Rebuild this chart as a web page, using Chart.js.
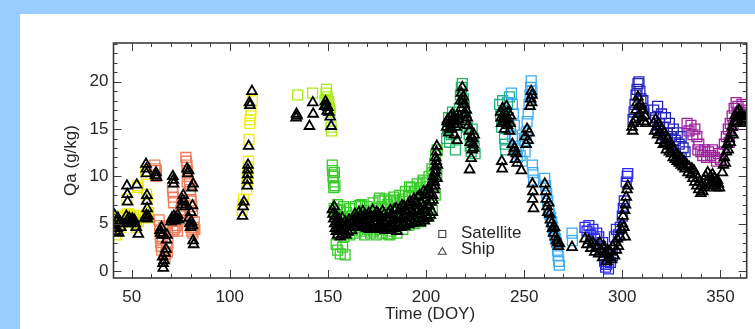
<!DOCTYPE html>
<html lang="en">
<head>
<meta charset="UTF-8">
<title>Qa time series</title>
<script src="https://cdn.jsdelivr.net/npm/chart.js@4.4.0/dist/chart.umd.min.js"></script>
<style>
    * {
        margin: 0;
        padding: 0;
        box-sizing: border-box;
    }

    body {
        background: #99ccff;
        width: 755px;
        height: 329px;
        overflow: hidden;
    }

    .panel {
        position: absolute;
        left: 20px;
        top: 14px;
        width: 735px;
        height: 315px;
        background: #fff;
    }

    canvas {
        display: block;
    }
</style>
</head>
<body>
<div class="panel">
    <canvas id="qaChart" width="735" height="315"></canvas>
</div>

<script>
// tick labels
const xTickValues = [50, 100, 150, 200, 250, 300, 350];
const yTickValues = [0, 5, 10, 15, 20];

// satellite Qa (g/kg) vs day of year
const satellitePoints = [
    [41.3,4.4],[41.6,5.2],[42,3.8],[42.4,4.8],[42.8,5.6],[43.2,4.2],[43.6,5.0],[44,5.8],[44.4,4.6],[45,5.3],
    [47.5,7.6],[47.8,6.0],[48.2,5.6],[48.6,6.0],[49,5.4],[49.5,5.8],[50,5.2],[50.5,5.6],[51,5.9],[51.5,5.4],[52,5.0],[52.5,4.6],[53,8.8],[53.3,9.0],[53.5,5.2],
    [57.2,10.6],[57.5,10.2],[57.6,8.1],[57.8,7.6],[58,6.0],[58.3,5.6],[57,5.8],[58.6,6.2],
    [61.8,11.2],[62.2,10.8],[62.6,10.6],[62.4,10.0],
    [64,5.4],[64.2,4.8],[64.4,4.2],[64.6,3.6],[64.8,3.0],[65,2.6],[65.3,2.2],[65.6,3.4],[66,4.0],[66.4,4.6],
    [67,1.4],[67.4,1.8],[67.8,2.4],[68.2,2.0],[68.5,3.0],
    [70.8,8.8],[71,8.4],[71.2,7.8],[71.4,7.2],[71,4.4],[71.6,4.2],[72.2,4.6],[72.8,4.8],[73.3,4.2],
    [74.6,5.8],[75,6.4],[75.5,7.0],[76,6.2],[75.8,5.4],
    [77.6,12.0],[77.9,11.6],[78.2,11.2],[78.4,10.6],[78.6,10.0],[78.3,9.4],
    [79.5,9.2],[79.8,8.6],[80,8.0],[80.3,7.4],[80.6,6.8],[81,6.2],[80.2,4.6],[80.6,4.2],[81.2,4.0],[81.6,4.6],[81.9,5.2],[82.2,4.4],
    [106.3,6.4],[106.6,7.0],[106.9,7.6],[108.6,8.6],[108.8,9.2],[109,9.8],[109.2,10.4],[109.4,11.0],[109.6,11.6],[109.8,13.9],[110.2,15.6],[110.4,16.0],[110.6,16.4],[110.8,17.0],[111.5,18.0],
    [134.6,18.6],[142.2,18.8],[148.5,18.0],[149,18.8],[149.3,19.2],[149.6,18.4],[150,17.6],[150.4,17.9],[150.8,17.2],[151.2,16.8],[151.6,15.2],[151.8,14.8],
    [152.2,11.2],[152.4,10.6],[152.6,10.0],[152.8,9.4],[153,8.8],[153.3,10.4],[153.6,9.0],[153.2,6.6],[153.5,6.0],
    [154.2,2.8],[155,2.2],[156.3,1.8],[157.5,2.5],[158.8,1.7],
    [154,5.8],[154.4,6.5],[155,7.0],[155.2,3.9],[156.5,6.4],[156.7,4.5],[156.9,5.6],[158,6.8],[158.2,3.6],[158.4,5.0],
    [159.5,6.2],[159.7,4.2],[161,6.6],[161.2,3.8],[161.4,5.4],[162.5,5.8],[162.7,4.4],[164,6.8],[164.2,4.0],[164.4,5.2],
    [165.5,6.0],[165.7,4.6],[166.2,6.9],[167,7.0],[167.2,4.2],[167.4,5.6],[168.5,6.4],[168.7,3.8],[170,6.8],[170.2,4.4],[170.4,5.8],
    [171.5,6.2],[171.7,4.0],[173,7.2],[173.2,4.2],[173.4,5.4],[174.5,6.6],[174.7,3.8],[176,7.4],[176.3,7.7],[176.2,4.4],[176.4,5.9],
    [177.5,6.8],[177.7,4.0],[179,7.6],[179.2,4.6],[179.4,6.2],[180.5,7.0],[180.7,3.9],[181.6,3.8],[182,7.4],[182.2,4.2],[182.4,5.8],
    [183.5,7.8],[183.7,4.6],[184,7.5],[185,7.2],[185.2,4.0],[185.4,6.4],[186.5,8.0],[186.7,4.8],[188,7.6],[188.2,4.4],[188.4,6.6],
    [189.5,8.4],[189.7,5.0],[191,8.0],[191.2,4.8],[191.4,6.8],[191.6,8.9],[192.5,8.8],[192.7,5.2],[194,8.4],[194.2,5.0],[194.4,7.2],
    [195.5,9.2],[195.7,5.4],[197,8.8],[197.2,5.2],[197.4,7.6],[198.4,9.4],[198.5,9.6],[198.7,5.6],[200,9.2],[200.2,5.8],[200.4,8.0],
    [201.5,10.0],[201.7,6.0],[203,10.8],[203.2,6.4],[203.4,9.0],[203.5,10.4],[204.5,11.4],[204.7,8.0],[204.9,12.2],[205.5,10.2],[205.7,12.8],
    [210.5,14.0],[211,15.0],[211.5,16.2],[212,13.6],[212.5,15.4],[213,14.4],[213.5,16.8],[214,15.8],[215,12.8],[215.5,14.6],[216,16.4],
    [217,17.2],[217.5,18.6],[218,19.4],[218.5,19.8],[219,18.2],[219.5,17.4],[220,16.0],[221,15.2],[222,14.4],[222.5,13.2],[223,12.6],
    [223.5,15.0],[224,14.0],[224.5,13.2],[225,12.4],
    [237.5,17.6],[238,16.4],[238.5,15.2],[239,18.0],[239.5,16.8],[240,14.0],[240.3,13.4],[240.6,12.8],[241,15.6],[241.5,17.8],[242,16.2],[242.5,18.4],[243,15.0],[244,14.2],
    [243.5,18.8],[244,17.6],[244.5,16.6],[245,15.4],[245.5,14.0],[246,12.8],[246.5,12.0],[247,13.2],[248,12.2],[249,11.6],[250,13.8],[250.5,12.6],
    [251,14.6],[251.5,15.8],[252,16.6],[252.5,17.6],[253,18.6],[253.3,19.4],[253.6,20.1],[254,19.0],[254.2,11.2],[254.5,10.4],[254.8,9.6],
    [260.5,9.8],[261,9.0],[261.5,8.2],[262,7.4],[262.5,6.6],[263,6.0],[263.5,5.6],[264,5.2],[264.5,4.6],[265,4.2],[265.5,3.8],[266,3.4],
    [266.5,3.0],[267,2.2],[267.3,1.6],[267.6,1.0],[267.9,0.6],
    [274.4,4.0],[274.6,3.2],[281,4.6],[282,4.2],[283,4.8],[284,3.8],[285,4.4],[286,3.4],[287,4.0],[288,3.6],[289,2.6],[290,3.0],
    [291,1.0],[291.5,0.4],[292,0.7],[293,0.2],[294,0.9],[295,1.6],[296,3.6],[297,4.4],[298,3.8],[299,4.6],[300,5.8],[300.5,6.6],
    [301,7.4],[302,9.4],[302.5,10.0],[302.8,10.3],
    [305.5,16.0],[306,16.8],[306.5,17.6],[307,18.6],[307.5,19.2],[308,19.8],[308.5,20.0],[309,19.0],[309.5,18.2],[310,17.2],[310.5,18.0],[311,16.6],
    [316,17.0],[317,16.2],[318,17.4],[319,15.6],[320,16.6],[321,15.2],[322,16.2],[323,14.6],[324,15.6],[325,14.2],[326,15.0],[327,13.8],
    [328,14.6],[329,13.4],[330,14.2],[331,13.0],[332,12.6],[318,15.0],[322,14.0],[326,12.8],[330,12.0],
    [333,15.6],[334,14.8],[335,15.4],[336,14.4],[337,15.0],[338,14.2],[339,13.4],[340,12.6],[338.5,12.8],[341,12.2],[342,12.8],[343,12.0],
    [344,12.6],[345,12.2],[346,12.8],[347,12.0],[348,11.6],[349,12.4],[350,11.8],[351,12.6],[352,13.4],[353,14.2],[354,15.0],[355,15.6],
    [356,16.4],[357,17.2],[358,17.8],[358.5,16.6],[359,17.4],[360,16.8],[361,17.6],[362,16.4],[363,17.0],[356.5,15.4],[354.5,13.6]
];

// ship Qa (g/kg) vs day of year
const shipPoints = [
    [41.3,5.9],[41.5,4.8],[41.8,4.2],[42.2,5.3],[42.5,4.5],[43,5.6],[43.4,4.0],[44,5.2],[44.5,4.6],[45.2,5.0],
    [47.6,9.0],[47.8,8.1],[47.9,7.3],[47.3,5.8],[47.8,5.4],[48.3,5.1],[48.8,5.6],[49.3,5.3],[49.8,5.0],[50.3,5.5],[50.8,5.2],[51.3,5.4],
    [51.8,5.0],[52.3,4.6],[52.6,9.1],[53.4,3.9],
    [57.3,11.3],[57.5,10.8],[57.6,10.3],[57.8,8.0],[57.7,7.4],[57.9,6.6],[57.5,5.9],[58.0,5.5],[58.4,5.8],[56.8,5.6],
    [62.2,10.1],[62.7,9.9],[62.4,10.4],
    [64.5,4.3],[64.8,4.0],[65.2,4.6],[65.5,3.8],[65.8,1.5],[66.0,0.8],[66.1,0.3],[66.5,1.1],[67,1.9],[67.5,2.3],[67.8,3.3],[68,3.8],
    [71.0,10.0],[71.2,9.6],[71.4,9.2],[70,5.2],[70.5,5.6],[71,5.4],[71.5,5.8],[72,5.3],[72.5,5.6],[73,5.5],[73.5,5.9],[74,5.4],
    [75.5,7.0],[76,7.5],[76.3,8.0],[76.8,7.3],[77.2,6.8],[78.2,10.8],[78.6,10.3],[79,10.6],[79.2,5.6],[79.6,5.0],[80,4.6],[80.5,5.2],
    [81,4.8],[80.8,8.8],[81.3,9.2],[80.2,6.2],[81,6.9],[81.3,3.2],[81.6,2.8],
    [106.5,5.8],[106.8,6.8],[107.2,7.3],[108.9,9.0],[109,9.6],[109.1,10.2],[109.2,10.7],[109.3,11.2],[109.6,13.2],[110,17.8],[110.3,17.5],[111.3,19.0],
    [133.8,16.2],[134,16.6],[134.3,16.4],[140.6,15.3],[142.3,17.8],[142.5,16.6],[148.3,17.4],[148.8,17.9],[149.2,17.5],[149.6,16.9],
    [150,17.3],[150.5,16.8],[151.2,16.3],[151.7,15.3],
    [152.3,6.5],[152.6,6.0],[153,5.5],[153.2,6.8],[153.5,5.0],[153.8,4.5],[154,5.8],[154.3,4.2],[154.6,5.2],[155,3.8],[155.3,4.8],
    [155.6,5.5],[156,4.4],[156.3,3.6],[156.6,5.0],[157,4.2],[157.3,5.6],[157.6,3.9],[158,4.8],[158.4,4.3],[158.8,5.2],[159.2,3.8],
    [159.5,4.6],[160,5.0],[160.4,4.1],[160.8,5.4],[161.2,4.6],[161.6,5.0],[162,4.3],[162.5,5.2],
    [163.2,4.6],[163.5,5.4],[163.8,6.0],[164.2,5.0],[164.5,5.7],[164.8,4.7],[165.2,4.8],[165.5,5.5],[165.8,6.2],[166.2,5.1],[166.5,4.6],[166.8,5.8],
    [167.2,4.9],[167.5,5.6],[167.8,6.3],[168.2,4.7],[168.5,5.3],[168.8,5.9],[169.2,5.0],[169.5,5.8],[169.8,4.5],[170.2,4.6],[170.5,5.4],[170.8,6.1],
    [171.2,4.4],[171.5,5.2],[171.8,5.8],[172.2,4.8],[172.5,5.6],[172.8,6.4],[173.2,4.5],[173.5,5.1],[173.8,5.9],[174.2,4.9],[174.5,5.7],[174.8,6.2],
    [175.2,4.6],[175.5,5.3],[175.8,6.0],[176.2,4.4],[176.5,5.0],[176.8,5.7],[177.2,4.8],[177.5,5.6],[177.8,6.3],[178.2,4.5],[178.5,5.2],[178.8,6.0],
    [179.2,4.3],[179.5,5.0],[179.8,5.6],[180.2,4.4],[180.5,5.3],[180.8,6.1],[181.2,4.6],[181.5,5.5],[181.8,6.4],[182.2,4.3],[182.5,5.1],[182.8,5.9],
    [183.2,4.7],[183.5,5.6],[183.8,6.5],[184.2,4.5],[184.5,5.4],[184.8,6.6],[185.2,4.2],[185.5,5.0],[185.8,5.8],[186.2,4.8],[186.5,5.7],[186.8,6.6],
    [187.2,4.6],[187.5,5.5],[187.8,6.9],[188.2,5.0],[188.5,5.9],[188.8,6.8],[189.2,4.7],[189.5,5.6],[189.8,6.4],[190.2,5.1],[190.5,6.0],[190.8,7.0],
    [191.2,4.9],[191.5,5.8],[191.8,7.3],[192.2,5.3],[192.5,6.2],[192.8,7.2],[193.2,5.0],[193.5,6.1],[193.8,7.6],[194.2,5.4],[194.5,6.4],[194.8,7.4],
    [195.2,5.2],[195.5,6.3],[195.8,7.8],[196.2,5.6],[196.5,6.6],[196.8,8.0],[197.2,5.1],[197.5,6.0],[197.8,7.2],[198.2,5.5],[198.5,6.8],[198.8,8.4],
    [199.2,5.3],[199.5,6.4],[199.8,8.1],[200.2,5.8],[200.5,7.0],[200.8,8.6],[201.2,5.6],[201.5,6.9],[201.8,8.2],[202.2,5.9],[202.5,7.3],[202.8,9.0],
    [203.2,6.2],[203.4,8.0],[203.6,9.6],[203.5,7.5],[203.8,10.0],[204,8.6],[204.2,9.4],[204.4,10.4],[204.5,9.0],[204.7,11.0],[204.9,12.0],
    [205,10.6],[205.2,11.6],[205.3,12.6],[205.5,13.2],[205.6,9.8],[205.8,11.2],
    [210.5,15.2],[211,16.0],[211.5,14.6],[212,15.6],[212.5,16.3],[213,15.0],[213.5,16.6],[214,15.8],[214.5,14.4],[215,16.0],[215.8,13.8],[216,15.5],
    [217,16.4],[217.5,18.0],[218,18.8],[218.5,19.4],[219,18.4],[219.5,17.6],[219,16.5],[220,15.8],[220.5,17.0],[221,16.2],[222,14.8],[222.5,13.6],
    [223,14.2],[223.5,12.8],[224,13.4],[224.5,14.4],[223,11.9],[222.2,10.7],
    [210.8,15.8],[211.8,15.0],[212.8,15.8],[213.8,16.2],[215.3,15.2],[216.5,16.0],[217.8,17.2],[218.8,18.0],[220.2,16.6],[221.5,15.4],[223.8,14.0],[224.2,13.0],
    [238,16.8],[238.5,15.6],[239,17.2],[239.5,16.2],[240,15.0],[240.5,16.6],[241,17.4],[241.5,15.4],[242,16.0],[242.5,14.8],[243,16.4],
    [238.3,16.2],[239.8,15.8],[240.8,16.0],[241.8,16.8],[242.8,15.6],
    [238.6,11.6],[238.8,10.8],[244,13.4],[244.5,12.6],[245,13.0],[245.5,11.8],[246,12.4],[246.5,11.4],[248.6,10.6],
    [250.5,14.2],[251,13.4],[251.5,15.0],[252,13.8],[252.5,14.6],[253,17.4],[253.3,18.2],[253.6,19.0],[254,18.6],[253.8,17.8],
    [254.2,9.2],[254.5,8.4],[254.3,7.6],[254.8,6.6],
    [260.5,9.2],[261,8.4],[261.3,7.6],[261.7,6.8],[262,6.2],[262.5,7.2],[263,6.0],[263.4,5.4],[264,5.0],[264.5,4.5],[265,4.0],[265.5,4.6],
    [266,3.6],[266.5,3.2],[267,3.0],[267.5,2.6],[268,2.9],[274.4,2.5],
    [281,3.4],[282,2.8],[283,3.2],[284,2.4],[285,3.0],[286,2.0],[287,2.6],[288,1.8],[288.5,3.0],[289,2.2],[290,1.4],[290.5,2.6],
    [291,1.8],[292,1.0],[292.5,2.2],[293,1.4],[294,2.0],[294.5,1.2],[295,2.6],[296,1.6],[296.5,3.0],[297,2.2],[297.5,3.4],[298,2.6],
    [299,3.6],[299.5,4.4],[300,5.0],[300.4,5.8],[300.8,4.6],[301.2,6.4],[301.6,7.0],[302,7.8],[302.4,8.6],[302.8,9.0],[301.5,3.6],
    [305,15.2],[305.3,14.8],[305.6,15.6],
    [306.5,16.0],[307,17.0],[307.5,17.8],[308,18.4],[308.5,17.4],[309,16.6],[309.5,17.6],[310,16.2],[310.5,17.0],[311,15.8],[311.5,16.4],[312,15.6],
    [316,15.6],[316.5,14.8],[317,16.0],[317.5,15.2],[318,14.4],[318.5,15.6],[319,14.6],[319.5,13.8],[320,15.0],[320.5,14.2],[321,13.4],
    [321.5,14.6],[322,13.6],[322.5,12.8],[323,14.0],[323.5,13.2],[324,12.6],[324.5,13.6],[325,12.4],[325.5,13.0],[326,12.0],[326.5,12.8],
    [327,11.8],[327.5,12.4],[328,11.6],[328.5,12.2],[329,11.4],[329.5,12.0],[330,11.2],[330.5,11.8],[331,11.0],[331.5,11.6],[332,10.8],
    [333,11.2],[333.5,10.4],[334,11.0],[335,10.2],[335.5,10.8],[336,9.8],[336.5,10.6],[337,9.4],[337.5,10.2],[338,9.0],[338.5,9.8],
    [339,8.6],[339.5,9.4],[340,8.2],[340.5,9.0],[341,8.4],[341.5,9.6],[342,8.8],[342.5,10.0],[343,9.2],[343.5,10.4],[344,9.6],
    [345,10.0],[345.5,9.4],[346,10.2],[346.5,9.0],[347,9.8],[347.5,9.2],[348,8.8],[348.5,9.6],[349,9.2],[349.5,8.8],
    [351,10.4],[351.5,11.2],[352,12.0],[352.5,11.4],[353,12.6],[353.5,13.4],[354,12.8],[354.5,14.0],[355,13.6],[355.5,14.6],[356,15.2],
    [356.5,14.4],[357,15.8],[357.5,16.4],[358,15.6],[358.5,16.8],[359,16.2],[359.5,17.0],[360,16.4],[360.5,15.8],[361,16.6],[361.5,16.0],
    [362,15.6],[362.5,16.2],[363,15.8]
];

// satellite symbol colour changes through the year
const satColourBands = [
    [59.5, '#e8e800'],
    [95, '#f27c58'],
    [125, '#eeee10'],
    [152, '#a6ee10'],
    [208, '#36cc26'],
    [236, '#22b466'],
    [243.2, '#22b08a'],
    [278, '#3aaef6'],
    [304, '#2828ee'],
    [332.5, '#2222bb'],
    [999, '#a020a0']
];

function satColour(doy) {
    for (const [upTo, colour] of satColourBands) {
        if (doy < upTo) return colour;
    }
    return '#a020a0';
}

const FONT = '"Liberation Sans", Arial, Helvetica, sans-serif';
const INK = '#262626';

// box with inward IDL-style ticks, axis titles and legend
const frameAndTicks = {
    id: 'frameAndTicks',
    afterDatasetsDraw(chart) {
        const { ctx, chartArea: a, scales: { x, y } } = chart;
        ctx.save();
        ctx.strokeStyle = '#3a3a3a';
        ctx.lineWidth = 1;

        const seg = (x1, y1, x2, y2) => {
            ctx.beginPath();
            ctx.moveTo(x1, y1);
            ctx.lineTo(x2, y2);
            ctx.stroke();
        };

        for (let v = 50; v <= 360; v += 10) {
            const px = Math.round(x.getPixelForValue(v)) + 0.5;
            const len = v % 50 === 0 ? 8 : 4;
            seg(px, a.bottom, px, a.bottom - len);
            seg(px, a.top, px, a.top + len);
        }
        for (let v = 0; v <= 24; v += 1) {
            const py = Math.round(y.getPixelForValue(v)) + 0.5;
            const len = v % 5 === 0 ? 8 : 4;
            seg(a.left, py, a.left + len, py);
            seg(a.right, py, a.right - len, py);
        }

        ctx.lineWidth = 1.6;
        ctx.strokeRect(a.left, a.top, a.right - a.left, a.bottom - a.top);

        // axis titles
        ctx.fillStyle = INK;
        ctx.font = '17px ' + FONT;
        ctx.textAlign = 'center';
        ctx.textBaseline = 'middle';
        ctx.fillText('Time (DOY)', (a.left + a.right) / 2, a.bottom + 36);
        ctx.save();
        ctx.translate(a.left - 42, (a.top + a.bottom) / 2);
        ctx.rotate(-Math.PI / 2);
        ctx.fillText('Qa (g/kg)', 0, 0);
        ctx.restore();

        // legend
        const lx = a.left + 328.8;
        const ly = a.top + 191;
        ctx.strokeStyle = '#444';
        ctx.lineWidth = 1.1;
        ctx.strokeRect(lx - 3.5, ly - 3.5, 7, 7);
        const ty = ly + 18;
        ctx.beginPath();
        ctx.moveTo(lx, ty - 4.5);
        ctx.lineTo(lx + 3.9, ty + 2.3);
        ctx.lineTo(lx - 3.9, ty + 2.3);
        ctx.closePath();
        ctx.stroke();
        ctx.textAlign = 'left';
        ctx.fillText('Satellite', lx + 18.7, ly - 0.5);
        ctx.fillText('Ship', lx + 18.7, ly + 15.5);

        ctx.restore();
    }
};

const toXY = pts => pts.map(([d, q]) => ({ x: d, y: q }));

new Chart(document.getElementById('qaChart'), {
    type: 'scatter',
    data: {
        datasets: [
            {
                label: 'Ship',
                data: toXY(shipPoints),
                pointStyle: 'triangle',
                pointRadius: 5.6,
                pointBorderWidth: 1.8,
                pointBorderColor: '#000',
                pointBackgroundColor: 'rgba(0,0,0,0)',
                order: 0
            },
            {
                label: 'Satellite',
                data: toXY(satellitePoints),
                pointStyle: 'rect',
                pointRadius: 7,
                pointBorderWidth: 1.3,
                pointBorderColor: ctx => satColour(ctx.raw ? ctx.raw.x : 0),
                pointBackgroundColor: 'rgba(0,0,0,0)',
                order: 1
            }
        ]
    },
    options: {
        responsive: false,
        animation: false,
        devicePixelRatio: 1,
        layout: { padding: { left: 0, top: 29, right: 6.7, bottom: 0 } },
        plugins: {
            legend: { display: false },
            tooltip: { enabled: false }
        },
        scales: {
            x: {
                type: 'linear',
                min: 40.75,
                max: 363.4,
                afterFit(scale) { scale.height = 51; },
                afterBuildTicks(scale) { scale.ticks = xTickValues.map(v => ({ value: v })); },
                grid: { display: false, drawTicks: false },
                border: { display: false },
                ticks: {
                    padding: 9,
                    color: INK,
                    autoSkip: false,
                    maxRotation: 0,
                    font: { family: FONT, size: 17 }
                }
            },
            y: {
                min: -0.75,
                max: 24.1,
                afterFit(scale) { scale.width = 93.5; },
                afterBuildTicks(scale) { scale.ticks = yTickValues.map(v => ({ value: v })); },
                grid: { display: false, drawTicks: false },
                border: { display: false },
                ticks: {
                    padding: 5,
                    color: INK,
                    font: { family: FONT, size: 17 }
                }
            }
        }
    },
    plugins: [frameAndTicks]
});
</script>
</body>
</html>
